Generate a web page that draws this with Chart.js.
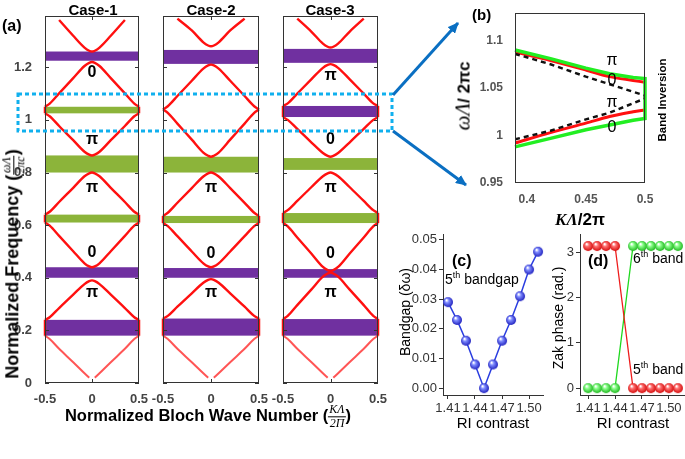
<!DOCTYPE html>
<html>
<head>
<meta charset="utf-8">
<script src="https://cdn.jsdelivr.net/npm/chart.js@4.4.1/dist/chart.umd.min.js"></script>
<style>
html,body{margin:0;padding:0;background:#fff;}
body{width:685px;height:459px;overflow:hidden;position:relative;font-family:"Liberation Sans",Arial,sans-serif;}
canvas{position:absolute;}
.t{position:absolute;white-space:nowrap;color:#000;line-height:1;}
.b{font-weight:bold;}
.rot{transform:translate(-50%,-50%) rotate(-90deg);}
.ctr{transform:translate(-50%,-50%);}
.frac{display:inline-block;vertical-align:middle;text-align:center;font-family:"Liberation Serif",serif;font-style:italic;font-weight:normal;font-size:12px;line-height:1.1;}
.frac span{display:block;padding:0 1px;}
.frac span:first-child{border-bottom:1px solid #000;}
.ser{font-family:"Liberation Serif",serif;font-style:italic;}
sup{font-size:9px;vertical-align:6px;line-height:0;}
</style>
</head>
<body>
<canvas id="case1" width="155" height="413" style="left:0;top:0"></canvas>
<canvas id="case2" width="128" height="413" style="left:147px;top:0"></canvas>
<canvas id="case3" width="127" height="413" style="left:267px;top:0"></canvas>
<canvas id="zoomB" width="245" height="230" style="left:440px;top:0"></canvas>
<canvas id="gapC" width="160" height="200" style="left:395px;top:225px"></canvas>
<canvas id="zakD" width="160" height="200" style="left:535px;top:225px"></canvas>

<div class="t b" style="left:2px;top:18px;font-size:16px">(a)</div>
<div class="t b ctr" style="left:93px;top:9px;font-size:15px">Case-1</div>
<div class="t b ctr" style="left:211px;top:9px;font-size:15px">Case-2</div>
<div class="t b ctr" style="left:330px;top:9px;font-size:15px">Case-3</div>
<div class="t b rot" style="left:14px;top:264px;font-size:18px">Normalized Frequency (<span class="frac"><span>ωΛ</span><span>2πc</span></span>)</div>
<div class="t b ctr" style="left:208px;top:417px;font-size:16.5px">Normalized Bloch Wave Number (<span class="frac"><span>KΛ</span><span>2Π</span></span>)</div>

<div class="t b" style="left:472px;top:7px;font-size:15px">(b)</div>
<div class="t rot" style="left:463px;top:96px;font-size:17px"><span class="ser" style="font-size:21px">ωΛ</span><b>/ 2πc</b></div>
<div class="t b ctr" style="left:580px;top:219px;font-size:17px"><span class="ser">KΛ</span>/2π</div>
<div class="t b rot" style="left:663px;top:100px;font-size:11.5px">Band Inversion</div>

<div class="t b" style="left:452px;top:253px;font-size:16px">(c)</div>
<div class="t" style="left:445px;top:272px;font-size:14px">5<sup>th</sup> bandgap</div>
<div class="t rot" style="left:405px;top:312px;font-size:14px">Bandgap (δω)</div>
<div class="t ctr" style="left:493px;top:422px;font-size:15px">RI contrast</div>

<div class="t b" style="left:588px;top:253px;font-size:16px">(d)</div>
<div class="t" style="left:633px;top:251px;font-size:14px">6<sup>th</sup> band</div>
<div class="t" style="left:633px;top:362px;font-size:14px">5<sup>th</sup> band</div>
<div class="t rot" style="left:558px;top:318px;font-size:14px">Zak phase (rad.)</div>
<div class="t ctr" style="left:633px;top:422px;font-size:15px">RI contrast</div>

<svg width="685" height="459" style="position:absolute;left:0;top:0">
  <defs>
    <marker id="ah" markerWidth="11" markerHeight="10" refX="10" refY="5" orient="auto" markerUnits="userSpaceOnUse">
      <path d="M0,0 L11,5 L0,10 z" fill="#0a6fc2"/>
    </marker>
  </defs>
  <rect x="18" y="94" width="374" height="37" fill="none" stroke="#10b0ee" stroke-width="3" stroke-dasharray="4 3"/>
  <line x1="393" y1="95" x2="458" y2="23" stroke="#0a6fc2" stroke-width="3" marker-end="url(#ah)"/>
  <line x1="393" y1="131" x2="466" y2="185" stroke="#0a6fc2" stroke-width="3" marker-end="url(#ah)"/>
</svg>

<script>
// ---- (a) band diagrams: half profiles for k >= 0, mirrored for k < 0
const K_HALF = [0, 0.03, 0.08, 0.2, 0.35, 0.45, 0.5];
const K_TICKS = [-0.5, 0, 0.5];
const W_TICKS = [0, 0.2, 0.4, 0.6, 0.8, 1, 1.2];

const CASE1_BANDS = [
  [null, 0.02, 0.037, 0.079, 0.13, 0.167, 0.18],
  [0.39, 0.387, 0.376, 0.336, 0.285, 0.25, 0.24],
  [0.44, 0.443, 0.455, 0.501, 0.559, 0.598, 0.61],
  [0.80, 0.797, 0.786, 0.742, 0.688, 0.651, 0.64],
  [0.865, 0.868, 0.879, 0.923, 0.977, 1.014, 1.025],
  [1.22, 1.217, 1.205, 1.159, 1.101, 1.062, 1.05],
  [1.26, 1.263, 1.275, 1.32, 1.38, null, null]
];
const CASE2_BANDS = [
  [null, 0.02, 0.037, 0.079, 0.13, 0.167, 0.18],
  [0.395, 0.392, 0.381, 0.341, 0.29, 0.255, 0.245],
  [0.44, 0.443, 0.455, 0.5, 0.558, 0.596, 0.608],
  [0.80, 0.797, 0.785, 0.741, 0.685, 0.647, 0.635],
  [0.86, 0.864, 0.876, 0.925, 0.986, 1.027, 1.04],
  [1.21, 1.207, 1.195, 1.149, 1.091, 1.052, 1.04],
  [1.28, 1.283, 1.295, 1.34, 1.385, null, null]
];
const CASE3_BANDS = [
  [null, 0.02, 0.037, 0.079, 0.13, 0.167, 0.18],
  [0.42, 0.416, 0.404, 0.356, 0.296, 0.255, 0.243],
  [0.425, 0.429, 0.441, 0.491, 0.553, 0.595, 0.608],
  [0.80, 0.797, 0.786, 0.745, 0.692, 0.657, 0.646],
  [0.86, 0.863, 0.874, 0.914, 0.966, 1.0, 1.011],
  [1.212, 1.209, 1.198, 1.155, 1.1, 1.063, 1.053],
  [1.275, 1.278, 1.29, 1.335, 1.385, null, null]
];

// band gaps [low, high] and their kind (p = purple, g = green)
const CASE1_GAPS = [[0.18, 0.24], [0.40, 0.44], [0.61, 0.64], [0.80, 0.865], [1.025, 1.05], [1.225, 1.26]];
const CASE1_KIND = ['p', 'p', 'g', 'g', 'g', 'p'];
const CASE2_GAPS = [[0.18, 0.245], [0.40, 0.437], [0.608, 0.635], [0.80, 0.86], null, [1.213, 1.266]];
const CASE2_KIND = ['p', 'p', 'g', 'g', null, 'p'];
const CASE3_GAPS = [[0.18, 0.243], [0.40, 0.433], [0.608, 0.646], [0.81, 0.855], [1.011, 1.053], [1.217, 1.27]];
const CASE3_KIND = ['p', 'p', 'g', 'g', 'p', 'p'];

// Zak phase labels inside the bands
const CASE1_ZAK = ['π', '0', 'π', 'π', '0'];
const CASE1_ZAK_W = [0.345, 0.495, 0.742, 0.924, 1.178];
const CASE2_ZAK = ['π', '0', 'π'];
const CASE2_ZAK_W = [0.345, 0.49, 0.742];
const CASE3_ZAK = ['π', '0', 'π', '0', 'π'];
const CASE3_ZAK_W = [0.345, 0.49, 0.742, 0.924, 1.17];

// ---- (b) zoom near 1.04
const B_K_UP = [0.39, 0.42, 0.45, 0.47, 0.49, 0.5];
const B_GREEN_UP = [1.09, 1.081, 1.071, 1.065, 1.061, 1.06];
const B_GREEN_LO = [0.988, 0.997, 1.006, 1.011, 1.016, 1.018];
const B_RED_UP = [1.088, 1.079, 1.069, 1.062, 1.058, 1.056];
const B_RED_LO = [0.992, 1.003, 1.013, 1.02, 1.025, 1.027];
const B_DASH_UP = [1.086, 1.075, 1.062, 1.054, 1.046, 1.042];
const B_DASH_LO = [0.996, 1.005, 1.017, 1.024, 1.034, 1.039];
const B_LABELS = ['π', '0', 'π', '0'];
const B_LABEL_K = [0.472, 0.472, 0.472, 0.472];
const B_LABEL_W = [1.079, 1.058, 1.035, 1.008];
const B_XTICKS = [0.4, 0.45, 0.5];
const B_YTICKS = [0.95, 1, 1.05, 1.1];

// ---- (c) 5th bandgap vs RI contrast
const RI = [1.41, 1.42, 1.43, 1.44, 1.45, 1.46, 1.47, 1.48, 1.49, 1.50, 1.51];
const BANDGAP = [0.029, 0.023, 0.016, 0.008, 0.0, 0.008, 0.016, 0.023, 0.031, 0.040, 0.046];
const RI_TICKS = [1.41, 1.44, 1.47, 1.50];
const GAP_TICKS = [0, 0.01, 0.02, 0.03, 0.04, 0.05];

// ---- (d) Zak phase
const RI_D = [1.41, 1.42, 1.43, 1.44, 1.46, 1.47, 1.48, 1.49, 1.50, 1.51];
const ZAK_5TH = [3.1416, 3.1416, 3.1416, 3.1416, 0, 0, 0, 0, 0, 0];
const ZAK_6TH = [0, 0, 0, 0, 3.1416, 3.1416, 3.1416, 3.1416, 3.1416, 3.1416];
const ZAK_TICKS = [0, 1, 2, 3];

Chart.defaults.font.family = '"Liberation Sans", Arial, sans-serif';
const PURPLE = '#7030a0';
const GREEN = '#8cb43a';
const RED = '#ff1010';

function mirror(vals) {
  const pts = [];
  for (let i = K_HALF.length - 1; i >= 1; i--) {
    if (vals[i] !== null) pts.push({x: -K_HALF[i], y: vals[i]});
  }
  for (let i = 0; i < K_HALF.length; i++) {
    if (vals[i] !== null || i === 0) pts.push({x: K_HALF[i], y: vals[i]});
  }
  return pts;
}

const caseDeco = {
  id: 'caseDeco',
  beforeDatasetsDraw(chart, args, o) {
    const ctx = chart.ctx, a = chart.chartArea, y = chart.scales.y;
    ctx.save();
    o.gaps.forEach((g, i) => {
      if (!g) return;
      const top = y.getPixelForValue(g[1]), bot = y.getPixelForValue(g[0]);
      ctx.fillStyle = o.kind[i] === 'p' ? PURPLE : GREEN;
      ctx.fillRect(a.left, top, a.right - a.left, bot - top);
      if (i % 2 === 0) {
        ctx.strokeStyle = RED; ctx.lineWidth = 2.5;
        ctx.beginPath();
        ctx.moveTo(a.left, top); ctx.lineTo(a.left, bot);
        ctx.moveTo(a.right, top); ctx.lineTo(a.right, bot);
        ctx.stroke();
      }
    });
    ctx.restore();
  },
  afterDatasetsDraw(chart, args, o) {
    const ctx = chart.ctx, a = chart.chartArea, x = chart.scales.x, y = chart.scales.y;
    ctx.save();
    ctx.strokeStyle = '#333'; ctx.lineWidth = 1;
    ctx.strokeRect(a.left + 0.5, a.top + 0.5, a.right - a.left - 1, a.bottom - a.top - 1);
    ctx.beginPath();
    W_TICKS.forEach(v => {
      const py = Math.round(y.getPixelForValue(v)) + 0.5;
      ctx.moveTo(a.left, py); ctx.lineTo(a.left + 4, py);
      ctx.moveTo(a.right, py); ctx.lineTo(a.right - 4, py);
    });
    const px = Math.round(x.getPixelForValue(0)) + 0.5;
    ctx.moveTo(px, a.top); ctx.lineTo(px, a.top + 4);
    ctx.moveTo(px, a.bottom); ctx.lineTo(px, a.bottom - 4);
    ctx.stroke();
    ctx.fillStyle = '#000';
    ctx.font = 'bold 16px "Liberation Sans", Arial, sans-serif';
    ctx.textAlign = 'center'; ctx.textBaseline = 'middle';
    o.zak.forEach((t, i) => ctx.fillText(t, x.getPixelForValue(0), y.getPixelForValue(o.zakW[i])));
    ctx.restore();
  }
};

function makeCase(id, bands, gaps, kind, zak, zakW, showY) {
  const datasets = bands.map((b, i) => ({
    data: mirror(b),
    borderColor: i === 0 ? 'rgba(255,20,20,0.72)' : RED,
    borderWidth: i === 0 ? 2 : 2.4,
    pointRadius: 0,
    cubicInterpolationMode: 'monotone',
    spanGaps: false,
    clip: 3
  }));
  new Chart(document.getElementById(id), {
    type: 'line',
    data: {datasets},
    options: {
      responsive: false, animation: false,
      layout: {padding: {top: 16, right: 16, left: showY ? 0 : 16, bottom: 0}},
      plugins: {legend: {display: false}, tooltip: {enabled: false},
        caseDeco: {gaps, kind, zak, zakW}},
      scales: {
        x: {type: 'linear', min: -0.5, max: 0.5,
          grid: {display: false}, border: {display: false},
          afterBuildTicks: s => { s.ticks = K_TICKS.map(v => ({value: v})); },
          afterFit: s => { s.height = 30; },
          ticks: {font: {size: 13, weight: 'bold'}, color: '#444', padding: 1, maxRotation: 0, autoSkip: false,
            callback: v => String(v)}},
        y: {type: 'linear', min: 0, max: 1.395, display: showY,
          grid: {display: false}, border: {display: false},
          afterBuildTicks: s => { s.ticks = W_TICKS.map(v => ({value: v})); },
          afterFit: s => { s.width = showY ? 45 : 0; },
          ticks: {font: {size: 13, weight: 'bold'}, color: '#444', padding: 5, autoSkip: false,
            callback: v => String(v)}}
      }
    },
    plugins: [caseDeco]
  });
}

makeCase('case1', CASE1_BANDS, CASE1_GAPS, CASE1_KIND, CASE1_ZAK, CASE1_ZAK_W, true);
makeCase('case2', CASE2_BANDS, CASE2_GAPS, CASE2_KIND, CASE2_ZAK, CASE2_ZAK_W, false);
makeCase('case3', CASE3_BANDS, CASE3_GAPS, CASE3_KIND, CASE3_ZAK, CASE3_ZAK_W, false);

// ---- (b)
const boxAndText = {
  id: 'boxAndText',
  afterDatasetsDraw(chart, args, o) {
    const ctx = chart.ctx, a = chart.chartArea, x = chart.scales.x, y = chart.scales.y;
    ctx.save();
    ctx.strokeStyle = '#333'; ctx.lineWidth = 1;
    ctx.strokeRect(a.left + 0.5, a.top + 0.5, a.right - a.left - 1, a.bottom - a.top - 1);
    ctx.fillStyle = '#000';
    ctx.font = '16px "Liberation Sans", Arial, sans-serif';
    ctx.textAlign = 'center'; ctx.textBaseline = 'middle';
    o.labels.forEach((t, i) => ctx.fillText(t, x.getPixelForValue(o.k[i]), y.getPixelForValue(o.w[i])));
    ctx.restore();
  }
};
const pts = (xs, ys) => xs.map((v, i) => ({x: v, y: ys[i]}));
const greenPath = pts(B_K_UP, B_GREEN_UP).concat(pts(B_K_UP, B_GREEN_LO).reverse());
new Chart(document.getElementById('zoomB'), {
  type: 'line',
  data: {datasets: [
    {data: pts(B_K_UP, B_DASH_UP), borderColor: '#111', borderWidth: 2.5, borderDash: [5, 4], pointRadius: 0, tension: 0},
    {data: pts(B_K_UP, B_DASH_LO), borderColor: '#111', borderWidth: 2.5, borderDash: [5, 4], pointRadius: 0, tension: 0},
    {data: greenPath, borderColor: '#22ee22', borderWidth: 3.5, pointRadius: 0, tension: 0, clip: false},
    {data: pts(B_K_UP, B_RED_UP), borderColor: RED, borderWidth: 3, pointRadius: 0, tension: 0.3},
    {data: pts(B_K_UP, B_RED_LO), borderColor: RED, borderWidth: 3, pointRadius: 0, tension: 0.3}
  ]},
  options: {
    responsive: false, animation: false,
    layout: {padding: {top: 13, right: 40, left: 0, bottom: 0}},
    plugins: {legend: {display: false}, tooltip: {enabled: false},
      boxAndText: {labels: B_LABELS, k: B_LABEL_K, w: B_LABEL_W}},
    scales: {
      x: {type: 'linear', min: 0.39, max: 0.5,
        grid: {display: false}, border: {display: false},
        afterBuildTicks: s => { s.ticks = B_XTICKS.map(v => ({value: v})); },
        afterFit: s => { s.height = 47; },
        ticks: {font: {size: 12, weight: 'bold'}, color: '#555', padding: 1, maxRotation: 0, callback: v => String(v)}},
      y: {type: 'linear', min: 0.95, max: 1.129,
        grid: {display: false}, border: {display: false},
        afterBuildTicks: s => { s.ticks = B_YTICKS.map(v => ({value: v})); },
        afterFit: s => { s.width = 75; },
        ticks: {font: {size: 12, weight: 'bold'}, color: '#555', padding: 4, callback: v => String(v)}}
    }
  },
  plugins: [boxAndText]
});

// ---- spheres for (c) and (d)
function sphere(light, dark, r) {
  const cv = document.createElement('canvas');
  cv.width = cv.height = 2 * r + 2;
  const g = cv.getContext('2d');
  const grad = g.createRadialGradient(r - 0.5, r - 1, 0.5, r + 1, r + 1, r + 0.5);
  grad.addColorStop(0, '#ffffff');
  grad.addColorStop(0.3, light);
  grad.addColorStop(1, dark);
  g.fillStyle = grad;
  g.beginPath(); g.arc(r + 1, r + 1, r, 0, 2 * Math.PI); g.fill();
  return cv;
}
const blueBall = sphere('#7f8cff', '#1616b8', 5);
const redBall = sphere('#ff7070', '#d00000', 5);
const greenBall = sphere('#8cff8c', '#12b012', 5);

function axisOpts(min, max, ticks, fit, fmt) {
  return {type: 'linear', min, max,
    grid: {drawOnChartArea: false, tickLength: 4, color: '#333'},
    border: {color: '#333', width: 1},
    afterBuildTicks: s => { s.ticks = ticks.map(v => ({value: v})); },
    afterFit: fit,
    ticks: {font: {size: 13}, color: '#333', padding: 2, maxRotation: 0, autoSkip: false, callback: fmt}};
}

new Chart(document.getElementById('gapC'), {
  type: 'line',
  data: {datasets: [{
    data: pts(RI, BANDGAP), borderColor: '#2a3de0', borderWidth: 1.5,
    pointStyle: blueBall, pointRadius: 5, tension: 0, clip: false
  }]},
  options: {
    responsive: false, animation: false,
    layout: {padding: {top: 7, right: 12, left: 0, bottom: 0}},
    plugins: {legend: {display: false}, tooltip: {enabled: false}},
    scales: {
      x: axisOpts(1.4045, 1.5155, RI_TICKS, s => { s.height = 30; }, v => v.toFixed(2)),
      y: axisOpts(-0.0023, 0.0517, GAP_TICKS, s => { s.width = 48; }, v => v.toFixed(2))
    }
  }
});

new Chart(document.getElementById('zakD'), {
  type: 'line',
  data: {datasets: [
    {data: pts(RI_D, ZAK_5TH), borderColor: '#ee1c1c', borderWidth: 1.3, pointStyle: redBall, pointRadius: 5, tension: 0, clip: false},
    {data: pts(RI_D, ZAK_6TH), borderColor: '#1ed81e', borderWidth: 1.3, pointStyle: greenBall, pointRadius: 5, tension: 0, clip: false}
  ]},
  options: {
    responsive: false, animation: false,
    layout: {padding: {top: 7, right: 5, left: 0, bottom: 0}},
    plugins: {legend: {display: false}, tooltip: {enabled: false}},
    scales: {
      x: axisOpts(1.401, 1.522, RI_TICKS, s => { s.height = 30; }, v => v.toFixed(2)),
      y: axisOpts(-0.152, 3.39, ZAK_TICKS, s => { s.width = 45; }, v => String(v))
    }
  }
});
</script>
</body>
</html>
